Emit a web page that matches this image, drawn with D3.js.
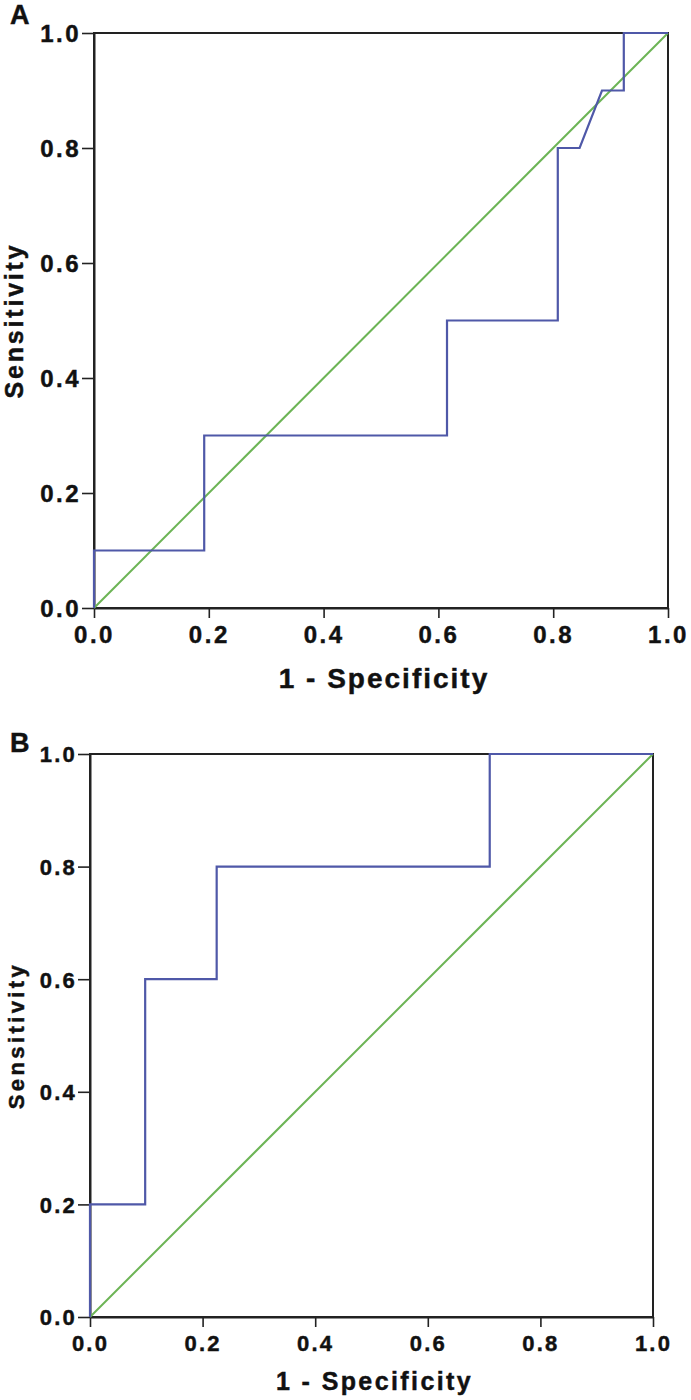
<!DOCTYPE html>
<html>
<head>
<meta charset="utf-8">
<script src="https://cdn.jsdelivr.net/npm/d3@7"></script>
<style>
  html, body { margin: 0; padding: 0; background: #fff; }
  svg { display: block; }
  text { font-family: "Liberation Sans", Arial, Helvetica, sans-serif; font-weight: bold; fill: #111; stroke: #111; stroke-width: 0.45px; }
</style>
</head>
<body>
<svg id="chart" width="691" height="1400"></svg>
<script>
// ---- data ----
const tickValues = [0, 0.2, 0.4, 0.6, 0.8, 1.0];
const panelLabels = ["A", "B"];
const xTitle = "1 - Specificity";
const yTitle = "Sensitivity";

// Panel A ROC curve (1 - specificity, sensitivity)
const rocA_fpr = [0, 0, 0.192, 0.192, 0.615, 0.615, 0.808, 0.808, 0.846, 0.885, 0.923, 0.923, 1.0];
const rocA_tpr = [0, 0.1, 0.1, 0.3, 0.3, 0.5, 0.5, 0.8, 0.8, 0.9, 0.9, 1.0, 1.0];

// Panel B ROC curve
const rocB_fpr = [0, 0, 0.098, 0.098, 0.225, 0.225, 0.71, 0.71, 1.0];
const rocB_tpr = [0, 0.2, 0.2, 0.6, 0.6, 0.8, 0.8, 1.0, 1.0];

// Reference diagonal
const refLine = [0, 1];

const svg = d3.select("#chart");
const blue = "#4f58a8";
const green = "#6cb455";

const panels = [
  { label: panelLabels[0], fpr: rocA_fpr, tpr: rocA_tpr,
    left: 94, right: 668, top: 33, bottom: 608,
    labelPos: [10, 24], labelSize: 27,
    tickSize: 24, tickLs: 2.5,
    yTitleX: 23, yTitleSize: 25, yTitleLs: 2.8,
    xTitleY: 688, xTitleSize: 28, xTitleLs: 2 },
  { label: panelLabels[1], fpr: rocB_fpr, tpr: rocB_tpr,
    left: 90, right: 653, top: 754, bottom: 1317,
    labelPos: [10, 752], labelSize: 27,
    tickSize: 22, tickLs: 2.2,
    yTitleX: 24, yTitleSize: 22, yTitleLs: 3.4,
    xTitleY: 1390, xTitleSize: 25, xTitleLs: 2.4 }
];

panels.forEach(p => {
  const x = d3.scaleLinear().domain([0, 1]).range([p.left, p.right]);
  const y = d3.scaleLinear().domain([0, 1]).range([p.bottom, p.top]);
  const g = svg.append("g");

  // frame
  g.append("rect")
    .attr("x", p.left).attr("y", p.top)
    .attr("width", p.right - p.left).attr("height", p.bottom - p.top)
    .attr("fill", "none").attr("stroke", "#222").attr("stroke-width", 2);

  // x axis
  const xAxis = g.append("g")
    .attr("transform", `translate(0,${p.bottom})`)
    .call(d3.axisBottom(x).tickValues(tickValues).tickFormat(d3.format(".1f")).tickSize(10).tickSizeOuter(0).tickPadding(8));
  // y axis
  const yAxis = g.append("g")
    .attr("transform", `translate(${p.left},0)`)
    .call(d3.axisLeft(y).tickValues(tickValues).tickFormat(d3.format(".1f")).tickSize(12).tickSizeOuter(0).tickPadding(1));

  [xAxis, yAxis].forEach(ax => {
    ax.select(".domain").attr("stroke", "#222").attr("stroke-width", 2);
    ax.selectAll(".tick line").attr("stroke", "#222").attr("stroke-width", 1.6);
    ax.selectAll(".tick text")
      .attr("fill", "#111")
      .style("font-family", '"Liberation Sans", Arial, sans-serif')
      .style("font-weight", "bold")
      .style("font-size", p.tickSize + "px")
      .style("letter-spacing", p.tickLs + "px");
  });
  yAxis.selectAll(".tick text").attr("dy", "0.36em");

  // diagonal reference
  g.append("line")
    .attr("x1", x(refLine[0])).attr("y1", y(refLine[0]))
    .attr("x2", x(refLine[1])).attr("y2", y(refLine[1]))
    .attr("stroke", green).attr("stroke-width", 2);

  // ROC curve
  const pts = p.fpr.map((f, i) => [f, p.tpr[i]]);
  g.append("path")
    .datum(pts)
    .attr("fill", "none")
    .attr("stroke", blue)
    .attr("stroke-width", 2.2)
    .attr("stroke-linejoin", "miter")
    .attr("d", d3.line().x(d => x(d[0])).y(d => y(d[1])));

  // panel label
  g.append("text")
    .attr("x", p.labelPos[0]).attr("y", p.labelPos[1])
    .style("font-size", p.labelSize + "px")
    .text(p.label);

  // y title
  g.append("text")
    .attr("transform", `translate(${p.yTitleX},${(p.top + p.bottom) / 2}) rotate(-90)`)
    .attr("text-anchor", "middle")
    .style("font-size", p.yTitleSize + "px")
    .style("letter-spacing", p.yTitleLs + "px")
    .text(yTitle);

  // x title
  g.append("text")
    .attr("x", (p.left + p.right) / 2 + 3).attr("y", p.xTitleY)
    .attr("text-anchor", "middle")
    .style("font-size", p.xTitleSize + "px")
    .style("letter-spacing", p.xTitleLs + "px")
    .text(xTitle);
});
</script>
</body>
</html>
